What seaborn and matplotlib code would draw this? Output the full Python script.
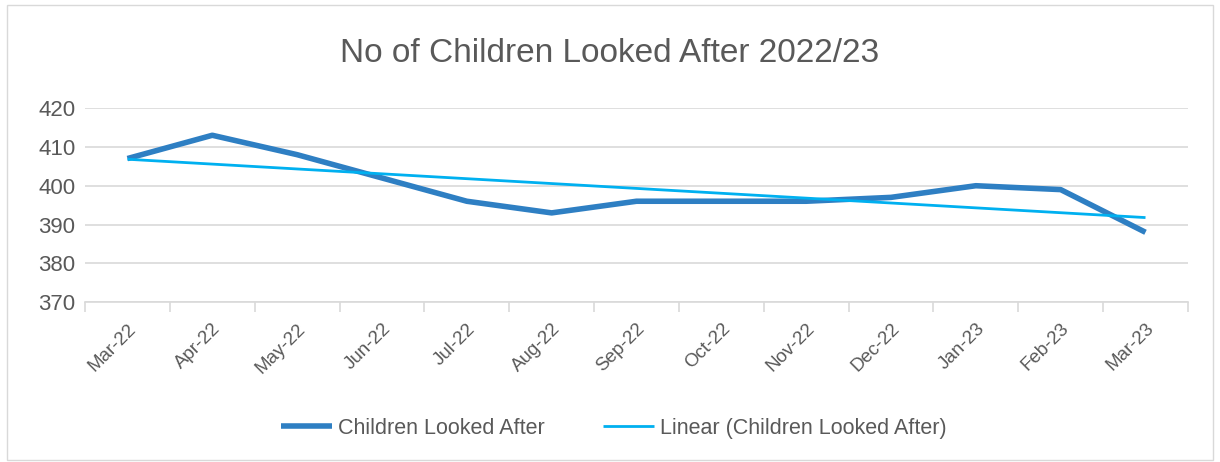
import numpy as np
import pandas as pd
import matplotlib
matplotlib.use("Agg")
import matplotlib.pyplot as plt
import seaborn as sns
from matplotlib.patches import Rectangle

months = ["Mar-22", "Apr-22", "May-22", "Jun-22", "Jul-22", "Aug-22", "Sep-22",
          "Oct-22", "Nov-22", "Dec-22", "Jan-23", "Feb-23", "Mar-23"]
children = [407, 413, 408, 402, 396, 393, 396, 396, 396, 397, 400, 399, 388]
y_ticks = [370, 380, 390, 400, 410, 420]

sns.set_theme(style="white")
plt.rcParams['font.family'] = ['Liberation Sans', 'DejaVu Sans']

x = np.arange(len(months))
slope, intercept = np.polyfit(x, children, 1)
trend = slope * x + intercept
df = pd.DataFrame({"x": x, "Children Looked After": children,
                   "Linear (Children Looked After)": trend})

fig = plt.figure(figsize=(12.2, 4.62), dpi=100)
ax = fig.add_axes([0.0697, 0.346, 0.904, 0.42])

fig.patches.append(Rectangle((0.006, 0.005), 0.988, 0.985, transform=fig.transFigure,
                             fill=False, edgecolor="#D9D9D9", linewidth=1.0))

sns.lineplot(data=df, x="x", y="Children Looked After", ax=ax, color="#2E7FC3",
             linewidth=4.0, label="Children Looked After", solid_capstyle="butt")
sns.lineplot(data=df, x="x", y="Linear (Children Looked After)", ax=ax, color="#00B0F0",
             linewidth=2.0, label="Linear (Children Looked After)", solid_capstyle="butt")

ax.set_xlim(-0.5, len(months) - 0.5)
ax.set_ylim(370, 420)
ax.set_yticks(y_ticks)
ax.set_yticklabels([str(v) for v in y_ticks], fontsize=16, color="#595959")
ax.yaxis.grid(True, color="#D9D9D9", linewidth=1.2)
ax.set_axisbelow(True)

ax.set_xticks(x)
ax.set_xticklabels(months, rotation=45, ha="right", rotation_mode="anchor",
                   fontsize=13.5, color="#595959")
ax.tick_params(axis="x", length=0, pad=13)
ax.tick_params(axis="y", length=0, pad=7)
ax.set_xticks(np.arange(-0.5, len(months)), minor=True)
ax.tick_params(axis="x", which="minor", length=7, color="#D9D9D9", width=1.2, direction="out")
ax.xaxis.set_tick_params(which="minor", bottom=True)

for s in ["top", "right", "left"]:
    ax.spines[s].set_visible(False)
ax.spines["bottom"].set_color("#D9D9D9")
ax.spines["bottom"].set_linewidth(1.2)

ax.set_xlabel("")
ax.set_ylabel("")

fig.text(0.5, 0.885, "No of Children Looked After 2022/23", ha="center", va="center",
         fontsize=24, color="#595959")

ax.legend_.remove()
handles, labels = ax.get_legend_handles_labels()
fig.legend(handles, labels, loc="center", bbox_to_anchor=(0.503, 0.073), ncol=2,
           frameon=False, fontsize=15.5, labelcolor="#595959", handlelength=2.37,
           columnspacing=2.7, handletextpad=0.28)

fig.savefig("out.png", dpi=100)
